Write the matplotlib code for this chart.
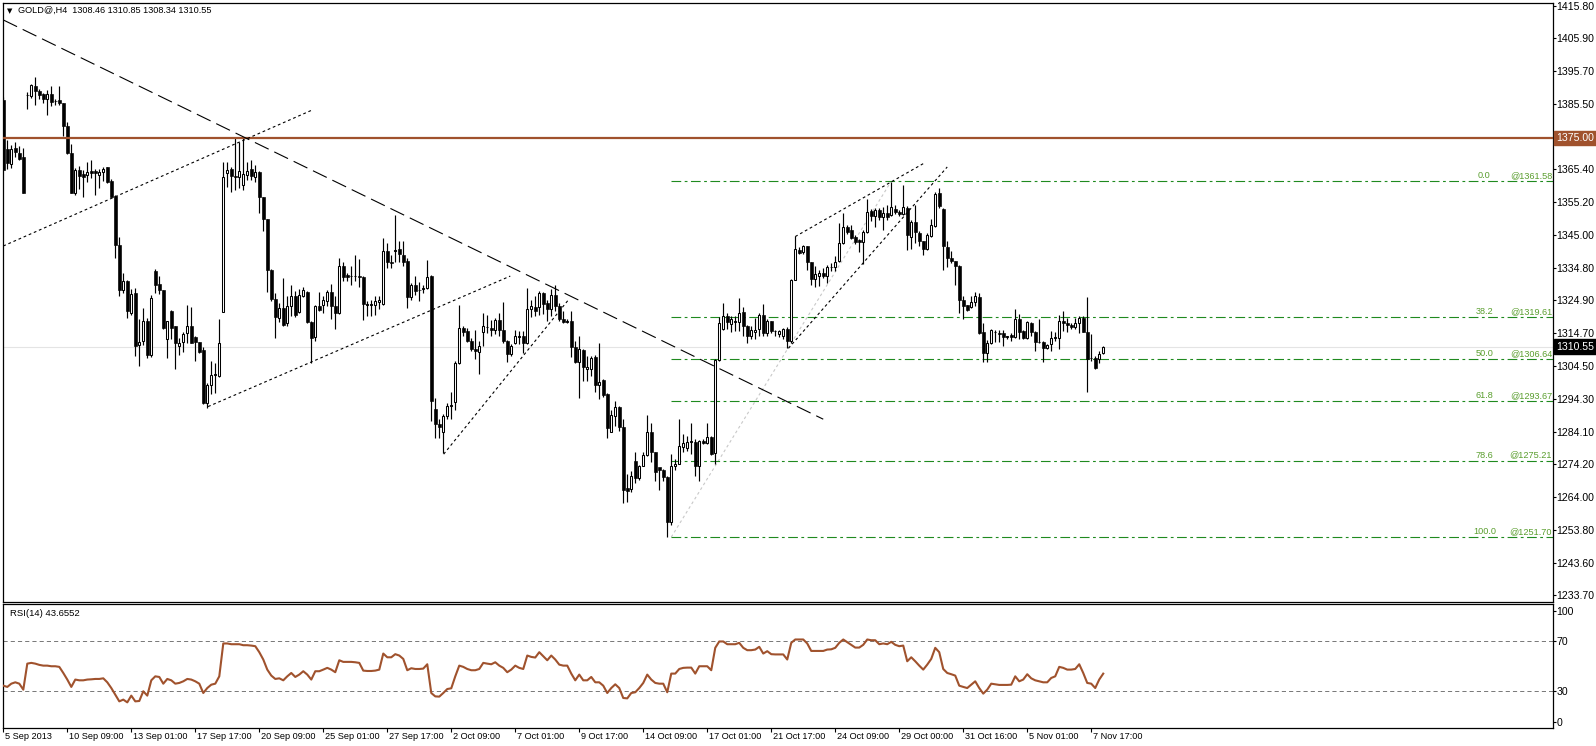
import matplotlib
matplotlib.use('Agg')
import matplotlib.pyplot as plt
import matplotlib.transforms as mtransforms
import numpy as np

plt.rcParams['font.family'] = ['Liberation Sans', 'DejaVu Sans']
plt.rcParams['lines.scale_dashes'] = False

# ---------------- data (H4 bars, GOLD@) ----------------
opens = [1386.8, 1371.7, 1366.9, 1372.0, 1370.4, 1369.0, 1388.3, 1387.9, 1390.9, 1389.6,
         1388.4, 1387.1, 1388.4, 1386.4, 1386.8, 1385.6, 1378.7, 1370.4, 1358.1, 1365.0,
         1363.8, 1363.5, 1364.7, 1364.7, 1363.5, 1364.3, 1365.9, 1361.8, 1357.0, 1342.0,
         1328.1, 1330.7, 1321.0, 1327.1, 1311.0, 1312.2, 1318.4, 1307.8, 1333.8, 1330.0,
         1327.9, 1313.0, 1321.5, 1316.8, 1310.7, 1311.9, 1314.6, 1316.9, 1313.5, 1312.0,
         1309.5, 1293.1, 1298.6, 1301.7, 1301.3, 1321.2, 1364.2, 1365.5, 1363.2, 1362.8,
         1360.4, 1363.5, 1365.3, 1363.0, 1364.3, 1356.6, 1349.9, 1334.3, 1325.1, 1319.4,
         1322.5, 1317.9, 1323.2, 1326.3, 1321.2, 1326.2, 1327.3, 1318.1, 1313.6, 1323.2,
         1323.3, 1324.6, 1327.3, 1323.2, 1321.0, 1335.5, 1332.7, 1332.3, 1332.3, 1332.3,
         1332.0, 1323.5, 1323.5, 1323.5, 1324.2, 1323.8, 1340.2, 1336.8, 1339.9, 1340.6,
         1338.9, 1337.0, 1325.9, 1329.4, 1328.1, 1328.4, 1328.6, 1332.4, 1291.3, 1286.6,
         1284.1, 1289.2, 1292.1, 1293.5, 1305.4, 1316.3, 1315.4, 1312.2, 1309.9, 1308.9,
         1315.0, 1316.5, 1316.3, 1315.8, 1318.7, 1315.8, 1312.2, 1308.1, 1311.7, 1313.5,
         1313.7, 1311.5, 1322.2, 1322.8, 1322.8, 1327.0, 1324.0, 1322.0, 1326.6, 1323.2,
         1318.9, 1318.2, 1318.4, 1310.5, 1305.8, 1309.5, 1303.5, 1303.7, 1307.4, 1298.6,
         1300.2, 1295.8, 1284.2, 1289.0, 1292.0, 1285.6, 1266.7, 1266.4, 1275.3, 1269.9,
         1273.7, 1277.1, 1284.0, 1277.9, 1273.3, 1272.3, 1270.2, 1256.2, 1273.6, 1274.3,
         1279.5, 1279.1, 1281.0, 1281.2, 1273.6, 1281.5, 1280.8, 1282.5, 1277.7, 1306.4,
         1316.0, 1320.1, 1317.4, 1318.2, 1318.1, 1321.2, 1316.8, 1313.8, 1315.0, 1316.0,
         1320.4, 1314.8, 1318.4, 1315.3, 1314.3, 1313.8, 1316.0, 1312.2, 1331.2, 1340.4,
         1339.6, 1341.7, 1336.8, 1331.4, 1332.2, 1333.3, 1332.3, 1335.1, 1335.1, 1337.1,
         1342.5, 1347.4, 1346.6, 1344.3, 1343.3, 1342.7, 1345.8, 1352.5, 1350.9, 1352.7,
         1350.5, 1351.7, 1351.2, 1352.9, 1352.2, 1351.5, 1353.3, 1344.4, 1349.1, 1345.6,
         1343.0, 1340.6, 1344.8, 1347.8, 1358.1, 1353.0, 1341.3, 1337.9, 1336.9, 1335.5,
         1324.9, 1323.5, 1322.8, 1324.2, 1325.9, 1315.0, 1308.4, 1311.7, 1315.0, 1314.8,
         1314.6, 1313.6, 1314.0, 1313.6, 1318.9, 1315.3, 1313.3, 1317.9, 1315.0, 1311.9,
         1311.9, 1310.2, 1311.2, 1313.3, 1313.3, 1318.4, 1317.9, 1317.3, 1316.6, 1317.7,
         1319.4, 1315.0, 1307.0, 1307.1, 1306.7, 1308.46]
highs = [1387.5, 1374.3, 1372.7, 1373.7, 1372.4, 1372.0, 1389.0, 1391.5, 1393.8, 1390.2,
         1388.9, 1389.9, 1390.9, 1387.1, 1390.9, 1385.6, 1379.9, 1373.0, 1365.6, 1366.3,
         1365.0, 1367.6, 1368.1, 1365.5, 1365.5, 1366.1, 1366.1, 1362.2, 1357.3, 1344.5,
         1333.3, 1331.2, 1328.3, 1328.6, 1318.9, 1322.5, 1319.4, 1326.6, 1334.5, 1332.2,
         1328.1, 1318.4, 1321.8, 1316.8, 1313.3, 1315.0, 1323.5, 1322.8, 1313.8, 1312.0,
         1310.5, 1299.4, 1306.1, 1305.6, 1318.9, 1367.6, 1367.6, 1366.1, 1375.3, 1373.8,
         1375.1, 1367.6, 1368.1, 1366.6, 1364.8, 1356.8, 1349.9, 1334.5, 1327.1, 1324.0,
         1331.7, 1326.1, 1329.7, 1327.6, 1328.3, 1329.0, 1327.6, 1318.4, 1323.5, 1327.3,
         1326.1, 1327.9, 1330.0, 1326.1, 1337.9, 1336.5, 1333.2, 1335.5, 1338.9, 1337.6,
         1332.4, 1324.5, 1325.0, 1326.1, 1326.1, 1344.0, 1342.5, 1338.9, 1351.2, 1343.0,
         1343.0, 1337.9, 1330.2, 1332.2, 1330.4, 1329.6, 1337.4, 1332.7, 1294.8, 1288.1,
         1289.7, 1293.1, 1296.6, 1306.1, 1323.5, 1317.0, 1316.3, 1313.3, 1315.8, 1312.2,
         1320.9, 1320.4, 1318.6, 1319.4, 1320.9, 1324.2, 1312.5, 1311.2, 1315.8, 1315.3,
         1315.3, 1328.6, 1325.0, 1326.1, 1327.6, 1327.3, 1325.0, 1328.4, 1329.4, 1324.0,
         1321.5, 1319.0, 1321.5, 1312.2, 1313.8, 1309.7, 1307.6, 1307.6, 1307.8, 1311.5,
         1300.4, 1296.1, 1291.0, 1293.8, 1292.2, 1288.3, 1271.2, 1272.2, 1278.1, 1274.1,
         1278.1, 1289.4, 1286.9, 1278.1, 1273.0, 1272.6, 1270.7, 1277.4, 1275.8, 1288.3,
         1283.5, 1282.8, 1286.9, 1282.0, 1281.8, 1282.0, 1286.9, 1282.8, 1306.6, 1319.7,
         1324.0, 1320.9, 1320.1, 1319.9, 1325.6, 1322.9, 1317.3, 1316.8, 1319.4, 1320.9,
         1323.8, 1318.9, 1318.4, 1315.8, 1315.6, 1316.3, 1316.6, 1331.4, 1344.6, 1341.3,
         1342.0, 1341.7, 1336.8, 1335.5, 1334.3, 1334.8, 1335.8, 1336.3, 1338.6, 1348.6,
         1351.7, 1348.1, 1348.1, 1345.0, 1343.7, 1346.4, 1356.0, 1352.9, 1353.2, 1353.2,
         1353.7, 1354.3, 1361.5, 1354.3, 1352.7, 1360.4, 1353.8, 1349.7, 1354.3, 1346.1,
         1343.0, 1345.6, 1349.9, 1358.4, 1359.4, 1353.3, 1343.0, 1339.9, 1336.9, 1335.8,
         1326.1, 1323.5, 1326.1, 1327.3, 1327.1, 1317.9, 1312.7, 1316.0, 1315.8, 1315.8,
         1315.6, 1313.8, 1314.6, 1322.2, 1320.7, 1315.8, 1318.4, 1318.1, 1315.3, 1319.1,
         1312.2, 1311.2, 1315.3, 1315.0, 1320.4, 1321.5, 1319.4, 1317.9, 1319.4, 1319.9,
         1319.9, 1325.8, 1314.3, 1307.6, 1309.1, 1310.85]
lows = [1365.0, 1365.5, 1365.6, 1369.1, 1368.1, 1358.1, 1384.0, 1387.4, 1385.2, 1387.1,
        1385.6, 1382.0, 1384.7, 1385.0, 1385.0, 1375.5, 1370.0, 1357.9, 1357.3, 1359.1,
        1356.6, 1361.5, 1362.5, 1357.4, 1359.4, 1361.8, 1361.1, 1356.8, 1337.9, 1326.1,
        1327.1, 1319.4, 1320.4, 1307.6, 1304.6, 1310.9, 1307.1, 1307.4, 1327.1, 1326.9,
        1316.0, 1307.1, 1312.8, 1303.5, 1307.8, 1308.8, 1311.7, 1311.7, 1306.1, 1308.5,
        1292.8, 1291.7, 1295.8, 1296.3, 1301.0, 1321.2, 1359.7, 1358.4, 1358.9, 1359.4,
        1358.9, 1362.0, 1362.0, 1361.5, 1351.9, 1346.1, 1327.3, 1324.6, 1313.3, 1318.1,
        1316.9, 1316.9, 1319.9, 1319.7, 1321.0, 1325.9, 1317.9, 1305.6, 1312.2, 1321.5,
        1321.0, 1323.2, 1319.1, 1316.0, 1320.5, 1330.7, 1330.7, 1329.4, 1330.7, 1329.0,
        1318.7, 1319.9, 1320.0, 1320.4, 1322.0, 1323.5, 1334.8, 1334.8, 1336.8, 1336.8,
        1335.5, 1322.5, 1324.9, 1326.6, 1324.5, 1327.1, 1328.3, 1287.6, 1282.2, 1282.2,
        1277.7, 1288.2, 1288.2, 1291.0, 1305.0, 1313.7, 1312.0, 1309.2, 1306.6, 1302.0,
        1310.7, 1314.8, 1313.8, 1314.3, 1313.8, 1311.7, 1305.8, 1307.6, 1311.2, 1311.2,
        1308.4, 1311.2, 1319.7, 1319.9, 1320.4, 1320.7, 1318.4, 1319.9, 1321.5, 1318.4,
        1317.7, 1317.7, 1307.4, 1305.4, 1294.5, 1300.0, 1300.0, 1301.3, 1296.5, 1294.3,
        1295.1, 1282.2, 1284.2, 1286.1, 1284.6, 1262.3, 1262.5, 1265.6, 1268.5, 1269.2,
        1273.6, 1276.7, 1274.8, 1268.9, 1266.1, 1268.9, 1251.7, 1255.3, 1272.3, 1274.3,
        1278.1, 1278.4, 1277.3, 1270.7, 1268.9, 1280.4, 1280.4, 1277.1, 1274.3, 1306.1,
        1315.8, 1316.0, 1315.0, 1315.3, 1315.3, 1313.8, 1311.5, 1313.0, 1313.0, 1313.8,
        1313.8, 1313.8, 1314.8, 1313.8, 1313.6, 1313.0, 1310.2, 1311.5, 1331.2, 1339.2,
        1339.2, 1334.1, 1329.4, 1329.0, 1329.2, 1331.7, 1330.2, 1333.8, 1333.8, 1336.8,
        1342.3, 1345.4, 1343.7, 1342.3, 1339.6, 1336.1, 1345.6, 1349.2, 1347.4, 1349.5,
        1346.4, 1349.7, 1350.9, 1351.5, 1350.9, 1351.2, 1340.4, 1340.6, 1342.5, 1341.7,
        1338.9, 1340.4, 1344.4, 1347.4, 1353.3, 1334.3, 1335.1, 1336.3, 1329.7, 1320.8,
        1318.9, 1321.5, 1322.5, 1323.0, 1314.3, 1305.8, 1305.8, 1311.2, 1311.9, 1311.9,
        1310.7, 1313.0, 1312.2, 1313.3, 1313.0, 1313.0, 1313.0, 1313.8, 1309.2, 1311.7,
        1305.8, 1309.9, 1309.2, 1312.3, 1309.7, 1315.3, 1315.0, 1316.0, 1316.0, 1314.6,
        1315.0, 1296.6, 1306.1, 1303.5, 1305.4, 1308.34]
closes = [1365.0, 1367.1, 1371.7, 1370.7, 1368.6, 1358.1, 1388.2, 1391.2, 1389.4, 1388.1,
          1387.1, 1388.4, 1386.1, 1386.3, 1385.6, 1378.7, 1370.4, 1357.9, 1365.0, 1363.2,
          1363.0, 1364.5, 1364.2, 1364.0, 1364.5, 1365.5, 1361.5, 1356.8, 1342.0, 1328.1,
          1330.7, 1321.5, 1326.9, 1310.7, 1311.9, 1318.4, 1307.8, 1325.6, 1329.7, 1328.1,
          1316.3, 1318.4, 1316.3, 1311.7, 1311.7, 1314.3, 1316.8, 1311.7, 1311.9, 1308.7,
          1293.1, 1298.6, 1301.7, 1302.0, 1311.7, 1362.8, 1365.2, 1363.2, 1363.0, 1364.7,
          1363.8, 1364.8, 1363.2, 1364.4, 1356.6, 1349.9, 1334.3, 1325.1, 1319.7, 1322.5,
          1317.1, 1323.2, 1326.3, 1320.4, 1326.6, 1327.9, 1318.1, 1313.3, 1323.0, 1321.8,
          1324.9, 1327.3, 1323.2, 1321.0, 1335.5, 1332.0, 1332.0, 1332.3, 1332.4, 1332.0,
          1323.8, 1323.5, 1323.6, 1324.5, 1324.8, 1339.9, 1336.8, 1336.3, 1340.4, 1339.2,
          1336.8, 1325.9, 1329.4, 1327.6, 1327.9, 1328.6, 1332.0, 1293.8, 1286.6, 1285.6,
          1289.0, 1292.3, 1292.4, 1305.4, 1316.3, 1315.0, 1312.2, 1309.9, 1309.2, 1310.7,
          1316.8, 1316.5, 1315.8, 1318.7, 1315.6, 1312.2, 1308.1, 1310.7, 1313.7, 1313.6,
          1311.5, 1322.2, 1323.0, 1321.5, 1327.1, 1323.8, 1322.0, 1326.6, 1323.0, 1318.9,
          1318.1, 1318.4, 1310.5, 1305.8, 1309.9, 1304.3, 1304.3, 1307.1, 1298.6, 1299.6,
          1295.5, 1285.3, 1289.4, 1292.0, 1285.6, 1266.1, 1266.0, 1270.7, 1269.9, 1273.7,
          1277.1, 1284.0, 1277.9, 1271.8, 1272.3, 1270.2, 1256.2, 1273.6, 1274.3, 1279.7,
          1280.8, 1281.2, 1281.5, 1273.6, 1281.5, 1280.8, 1282.5, 1277.4, 1306.4, 1317.9,
          1320.1, 1318.1, 1318.9, 1318.4, 1321.0, 1316.8, 1313.8, 1315.8, 1315.6, 1320.4,
          1314.8, 1318.4, 1315.3, 1315.3, 1315.3, 1316.0, 1312.2, 1331.2, 1340.6, 1339.4,
          1341.7, 1336.8, 1331.4, 1332.8, 1333.3, 1332.3, 1335.1, 1335.0, 1336.8, 1342.5,
          1347.4, 1345.8, 1344.0, 1342.7, 1342.7, 1345.8, 1352.2, 1350.9, 1352.7, 1350.5,
          1351.7, 1350.7, 1353.6, 1352.0, 1351.5, 1353.6, 1345.1, 1349.1, 1345.8, 1343.0,
          1340.6, 1345.1, 1348.1, 1357.7, 1354.0, 1341.5, 1337.9, 1336.9, 1335.3, 1324.9,
          1323.2, 1321.8, 1324.2, 1326.1, 1314.6, 1308.4, 1311.7, 1315.8, 1315.0, 1314.3,
          1313.6, 1313.6, 1313.6, 1318.9, 1315.0, 1313.3, 1318.1, 1315.0, 1311.9, 1312.0,
          1310.2, 1310.9, 1313.3, 1313.4, 1318.4, 1317.7, 1317.1, 1316.6, 1317.7, 1319.4,
          1315.0, 1306.8, 1307.1, 1303.8, 1308.1, 1310.55]
rsi = [34.0, 33.0, 35.6, 36.7, 35.6, 30.8, 51.7, 52.3, 51.7, 50.7,
       50.1, 50.1, 49.6, 49.6, 49.1, 44.2, 38.9, 33.0, 38.9, 38.3,
       38.3, 38.9, 39.1, 39.4, 39.4, 39.9, 36.7, 32.1, 26.8, 21.4,
       22.8, 20.6, 26.0, 21.4, 21.7, 29.5, 26.0, 38.3, 41.5, 41.0,
       35.6, 39.4, 38.3, 35.6, 36.2, 37.5, 39.4, 38.9, 37.5, 35.6,
       28.1, 32.1, 34.8, 35.6, 41.5, 67.9, 67.9, 67.3, 67.3, 67.3,
       66.5, 66.5, 66.2, 65.7, 60.9, 55.0, 46.9, 42.1, 39.4, 39.9,
       38.3, 41.5, 44.2, 41.0, 42.9, 45.6, 42.9, 38.9, 45.6, 45.6,
       46.9, 48.3, 46.9, 44.8, 54.4, 53.1, 53.1, 53.1, 52.8, 52.3,
       46.1, 45.8, 45.8, 46.1, 46.9, 59.8, 56.8, 56.8, 59.3, 58.2,
       55.5, 46.4, 48.0, 47.4, 47.4, 47.7, 51.2, 28.1, 25.4, 25.2,
       28.1, 31.3, 31.9, 41.5, 50.1, 49.1, 47.4, 46.4, 46.4, 47.4,
       52.3, 51.7, 51.2, 52.8, 50.1, 48.3, 44.8, 46.9, 50.1, 48.3,
       47.4, 58.2, 57.1, 56.6, 60.9, 57.7, 54.4, 58.2, 55.0, 50.9,
       50.1, 50.1, 43.7, 38.3, 42.9, 38.3, 38.3, 41.0, 36.7, 36.7,
       34.0, 28.1, 32.1, 35.1, 32.1, 24.1, 23.8, 28.1, 28.7, 32.1,
       36.2, 42.9, 38.9, 36.2, 35.6, 35.6, 28.7, 43.7, 43.7, 47.4,
       48.3, 48.5, 48.5, 43.7, 49.6, 49.6, 49.6, 46.4, 64.4, 69.5,
       69.5, 67.3, 67.3, 67.3, 68.4, 64.4, 62.5, 62.5, 63.0, 65.2,
       59.8, 61.7, 59.3, 59.1, 59.1, 59.1, 55.0, 68.4, 71.1, 71.1,
       71.1, 67.9, 61.9, 61.9, 61.9, 61.9, 63.0, 63.2, 64.4, 68.4,
       71.1, 68.9, 66.8, 64.6, 64.6, 66.8, 71.1, 70.5, 70.5, 67.3,
       67.9, 67.3, 69.2, 66.8, 65.7, 66.2, 53.6, 56.8, 53.6, 50.1,
       46.9, 50.9, 55.5, 64.4, 60.9, 47.4, 44.2, 43.2, 42.1, 34.0,
       33.0, 32.1, 34.8, 37.5, 32.1, 27.6, 30.8, 35.6, 35.1, 34.6,
       34.6, 34.6, 34.8, 41.5, 37.5, 38.9, 43.2, 39.9, 38.3, 37.5,
       36.7, 36.7, 40.2, 41.5, 49.1, 48.3, 46.9, 46.9, 47.4, 51.2,
       44.2, 36.2, 35.6, 32.1, 38.9, 43.66]

date_labels = ["5 Sep 2013", "10 Sep 09:00", "13 Sep 01:00", "17 Sep 17:00", "20 Sep 09:00",
               "25 Sep 01:00", "27 Sep 17:00", "2 Oct 09:00", "7 Oct 01:00", "9 Oct 17:00",
               "14 Oct 09:00", "17 Oct 01:00", "21 Oct 17:00", "24 Oct 09:00", "29 Oct 00:00",
               "31 Oct 16:00", "5 Nov 01:00", "7 Nov 17:00"]
date_label_bars = [0, 16, 32, 48, 64, 80, 96, 112, 128, 144, 160, 176, 192, 208, 224, 240, 256, 272]

price_ticks = [1415.80, 1405.90, 1395.70, 1385.50, 1365.40, 1355.20, 1345.00, 1334.80,
               1324.90, 1314.70, 1304.50, 1294.30, 1284.10, 1274.20, 1264.00, 1253.80,
               1243.60, 1233.70]
rsi_tick_values = [100, 70, 30, 0]

fib_levels = ["0.0", "38.2", "50.0", "61.8", "78.6", "100.0"]
fib_prices = [1361.58, 1319.61, 1306.64, 1293.67, 1275.21, 1251.70]
fib_anchor_bars = [167, 222]
fib_anchor_prices = [1251.70, 1361.58]

hline_price = 1375.00
last_price = 1310.55
header = "GOLD@,H4  1308.46 1310.85 1308.34 1310.55"
rsi_title = "RSI(14) 43.6552"

# trend lines: (bar0, price0, bar1, price1)
long_dash_bars = [0, 205]
long_dash_prices = [1411.4, 1288.1]
dotted_lines_bars = [[0, 77.25], [51.2, 126.75], [110.1, 141.25], [196.3, 236.0], [198.0, 230.25]]
dotted_lines_prices = [[1341.6, 1383.6], [1292.0, 1332.3], [1277.3, 1324.9], [1310.0, 1366.0], [1344.5, 1367.2]]

# ---------------- figure ----------------
W, H = 1596, 746
fig = plt.figure(figsize=(W / 100, H / 100), dpi=100)
fig.patch.set_facecolor('white')


def px_axes(l, t, r, b):
    return fig.add_axes([l / W, 1 - b / H, (r - l) / W, (b - t) / H])


ax = px_axes(2.7, 2.7, 1553, 601.5)
axr = px_axes(2.7, 603.5, 1553, 728)

XL = (-0.15, 387.45)
FS_Y = 7.6     # price scale labels
FS_T = 6.6     # other texts
for a in (ax, axr):
    a.set_xlim(*XL)
    for s in a.spines.values():
        s.set_linewidth(0.9)
        s.set_color('black')
    a.set_facecolor('white')

ax.set_ylim(1231.8, 1416.73)

# candles
x = np.arange(len(closes))
o = np.array(opens); c = np.array(closes); h = np.array(highs); lo = np.array(lows)
up = c >= o
ax.axhline(last_price, color='#e4e4e4', lw=0.8, zorder=0.5)
ax.vlines(x, lo, h, color='black', lw=0.85, zorder=2)
bottom = np.minimum(o, c)
height = np.maximum(np.abs(c - o), 0.15)
ax.bar(x[up], height[up], bottom=bottom[up], width=0.55, color='white',
       edgecolor='black', linewidth=0.75, zorder=3)
ax.bar(x[~up], height[~up], bottom=bottom[~up], width=0.72, color='black',
       edgecolor='black', linewidth=0.45, zorder=3)

# horizontal line 1375
ax.axhline(hline_price, color='#A0522D', lw=1.6, zorder=4)

# trendlines
ax.plot(long_dash_bars, long_dash_prices, color='black', lw=0.8, dashes=(11, 4.5), zorder=5)
for bx, py in zip(dotted_lines_bars, dotted_lines_prices):
    ax.plot(bx, py, color='black', lw=0.8, dashes=(2, 2), zorder=5)

# fibonacci
ax.plot(fib_anchor_bars, fib_anchor_prices, color='#c8c8c8', lw=0.8, dashes=(2, 2), zorder=1.5)
for lev, p in zip(fib_levels, fib_prices):
    ax.plot([fib_anchor_bars[0], XL[1]], [p, p], color='#1f8a1f', lw=0.8,
            dashes=(7, 2.5, 2, 2.5), zorder=1.8)
    ax.text(370.3, p + 0.4, lev, ha='center', va='bottom', fontsize=FS_T, color='#5a9e2e', zorder=6)
    ax.text(387.2, p + 0.4, '@%.2f' % p, ha='right', va='bottom', fontsize=FS_T,
            color='#5a9e2e', zorder=6)

# y axis (right)
ax.yaxis.tick_right()
ax.set_yticks(price_ticks)
ax.set_yticklabels(['%.2f' % v for v in price_ticks])
ax.tick_params(axis='y', length=2, width=0.8, pad=0.4, labelsize=FS_Y, direction='out')
ax.tick_params(axis='x', bottom=False, labelbottom=False)

bl = mtransforms.blended_transform_factory(ax.transAxes, ax.transData)
ax.annotate('%.2f' % hline_price, xy=(1, hline_price), xycoords=bl, xytext=(2.0, 0),
            textcoords='offset points', ha='left', va='center', fontsize=FS_Y, color='white',
            bbox=dict(boxstyle='square,pad=0.2', fc='#A0522D', ec='#A0522D'), annotation_clip=False, zorder=10)
ax.annotate('%.2f' % last_price, xy=(1, last_price), xycoords=bl, xytext=(2.0, 0),
            textcoords='offset points', ha='left', va='center', fontsize=FS_Y, color='white',
            bbox=dict(boxstyle='square,pad=0.2', fc='black', ec='black'), annotation_clip=False, zorder=10)

# header
fig.text(18 / W, 1 - 10.7 / H, header, ha='left', va='center', fontsize=FS_T, color='black')
fig.text(9.5 / W, 1 - 10.7 / H, '\u25BC', ha='center', va='center', fontsize=5, color='black',
         family=['DejaVu Sans'])

# RSI panel
axr.set_ylim(0, 100)
axr.plot(x, rsi, color='#A0522D', lw=1.5, zorder=3)
for lv in (70, 30):
    axr.axhline(lv, color='#777777', lw=0.7, dashes=(3, 2.2), zorder=1)
axr.yaxis.tick_right()
rsi_tick_pos = [94.3, 70, 30, 4.8]
axr.set_yticks(rsi_tick_pos)
axr.set_yticklabels([str(v) for v in rsi_tick_values])
axr.tick_params(axis='y', length=2, width=0.8, pad=0.4, labelsize=FS_Y, direction='out')
axr.set_xticks(date_label_bars)
axr.set_xticklabels([''] * len(date_label_bars))
axr.tick_params(axis='x', length=3, width=0.8, direction='out')
for lab, b in zip(date_labels, date_label_bars):
    axr.annotate(lab, xy=(b, 0), xycoords=('data', 'axes fraction'), xytext=(1.0, -3.0),
                 textcoords='offset points', ha='left', va='top', fontsize=FS_T, color='black',
                 annotation_clip=False)
axr.text(7 / 1550.3, (728 - 613) / 124.5, rsi_title, transform=axr.transAxes, ha='left',
         va='center', fontsize=FS_T + 0.2, color='black')

fig.savefig('out.png', dpi=100, facecolor='white')
